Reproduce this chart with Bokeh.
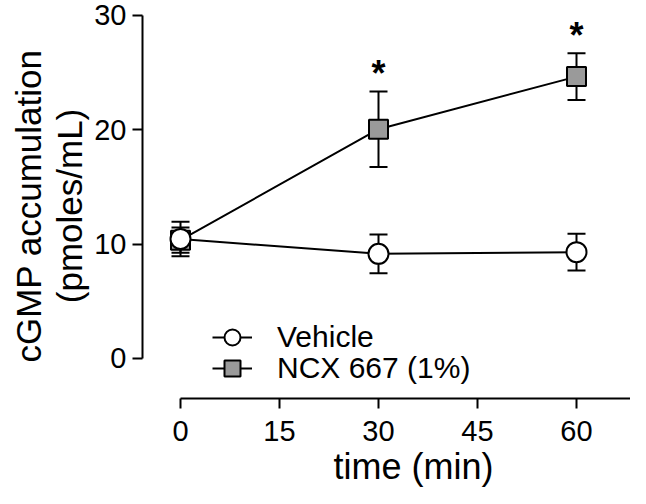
from bokeh.plotting import figure
from bokeh.models import ColumnDataSource, Whisker, TeeHead, FixedTicker, Legend, LegendItem, Range1d, Title
from bokeh.core.properties import value
from bokeh.embed import file_html
from bokeh.resources import INLINE

# ---- data ----
time_min = [0, 30, 60]
vehicle_mean = [10.45, 9.15, 9.3]
vehicle_sem = [1.5, 1.7, 1.6]
ncx_mean = [10.35, 20.05, 24.65]
ncx_sem = [1.1, 3.3, 2.05]
star_times = [30, 60]
x_ticks = [0, 15, 30, 45, 60]
y_ticks = [0, 10, 20, 30]
series_labels = ["Vehicle", "NCX 667 (1%)"]
x_title = "time (min)"
y_title = "cGMP accumulation\n(pmoles/mL)"

FONT = "Liberation Sans"
LEFT = 142

p = figure(width=630, height=488, output_backend="svg", toolbar_location=None,
           x_range=Range1d((LEFT - 180) / 6.6, (630 - 180) / 6.6), y_range=Range1d(-3.5, 30.17),
           min_border_left=LEFT, min_border_right=0, min_border_top=13, min_border_bottom=90)
p.outline_line_color = None
p.xgrid.visible = False
p.ygrid.visible = False
p.background_fill_color = "white"
p.border_fill_color = "white"

for ax in (p.xaxis[0], p.yaxis[0]):
    ax.axis_line_width = 2
    ax.axis_line_color = "black"
    ax.major_tick_line_width = 2
    ax.major_tick_line_color = "black"
    ax.major_tick_in = 0
    ax.major_tick_out = 10
    ax.minor_tick_line_color = None
    ax.major_label_text_font = FONT
    ax.major_label_text_font_size = "29px"
    ax.major_label_text_color = "black"
    ax.axis_label_text_font = FONT
    ax.axis_label_text_font_size = "35px"
    ax.axis_label_text_font_style = "normal"
    ax.axis_label_text_color = "black"

p.xaxis[0].ticker = FixedTicker(ticks=x_ticks)
p.yaxis[0].ticker = FixedTicker(ticks=y_ticks)
p.xaxis[0].bounds = (0, (630 - 180) / 6.6)
p.yaxis[0].bounds = (0, 30)
p.xaxis[0].major_label_standoff = 12
p.yaxis[0].major_label_standoff = 6
p.yaxis[0].axis_label = y_title
p.yaxis[0].axis_label_text_line_height = 1.05
p.yaxis[0].axis_label_standoff = 2

xt = Title(text=x_title, align="left", offset=333 - LEFT, standoff=0, text_font=FONT,
           text_font_size="36px", text_font_style="normal", text_color="black")
p.add_layout(xt, "below")

veh = ColumnDataSource(dict(x=time_min, y=vehicle_mean,
                            lo=[m - s for m, s in zip(vehicle_mean, vehicle_sem)],
                            hi=[m + s for m, s in zip(vehicle_mean, vehicle_sem)]))
ncx = ColumnDataSource(dict(x=time_min, y=ncx_mean,
                            lo=[m - s for m, s in zip(ncx_mean, ncx_sem)],
                            hi=[m + s for m, s in zip(ncx_mean, ncx_sem)]))

for src in (ncx, veh):
    w = Whisker(source=src, base="x", upper="hi", lower="lo", line_width=2, line_color="black",
                upper_head=TeeHead(size=18, line_width=2, line_color="black"),
                lower_head=TeeHead(size=18, line_width=2, line_color="black"))
    p.add_layout(w)

ncx_line = p.line("x", "y", source=ncx, line_width=2, line_color="black")
veh_line = p.line("x", "y", source=veh, line_width=2, line_color="black")
ncx_mk = p.scatter("x", "y", source=ncx, marker="square", size=19, fill_color="#9a9a9a",
                   line_color="black", line_width=2)
veh_mk = p.scatter("x", "y", source=veh, marker="circle", size=20, fill_color="white",
                   line_color="black", line_width=2)

# significance stars above NCX error bars
star_y = [ncx_mean[time_min.index(t)] + ncx_sem[time_min.index(t)] for t in star_times]
p.text(x=star_times, y=star_y, text=["*"] * len(star_times), text_font=value(FONT),
       text_font_size="36px", text_font_style="bold", text_align="center",
       text_baseline="alphabetic", y_offset=-18, text_color="black")


def make_legend(label, renderers, loc):
    lg = Legend(items=[LegendItem(label=label, renderers=renderers)], location=loc,
                orientation="vertical")
    lg.glyph_width = 40
    lg.glyph_height = 40
    lg.padding = 0
    lg.margin = 0
    lg.label_standoff = 25
    lg.label_text_font = FONT
    lg.label_text_font_size = "30px"
    lg.label_text_color = "black"
    lg.border_line_color = None
    lg.background_fill_alpha = 0
    return lg


p.add_layout(make_legend(series_labels[0], [veh_line, veh_mk], (212 - LEFT, 41)), "center")
p.add_layout(make_legend(series_labels[1], [ncx_line, ncx_mk], (212 - LEFT, 10)), "center")

open("out.html", "w").write(file_html(p, INLINE))
